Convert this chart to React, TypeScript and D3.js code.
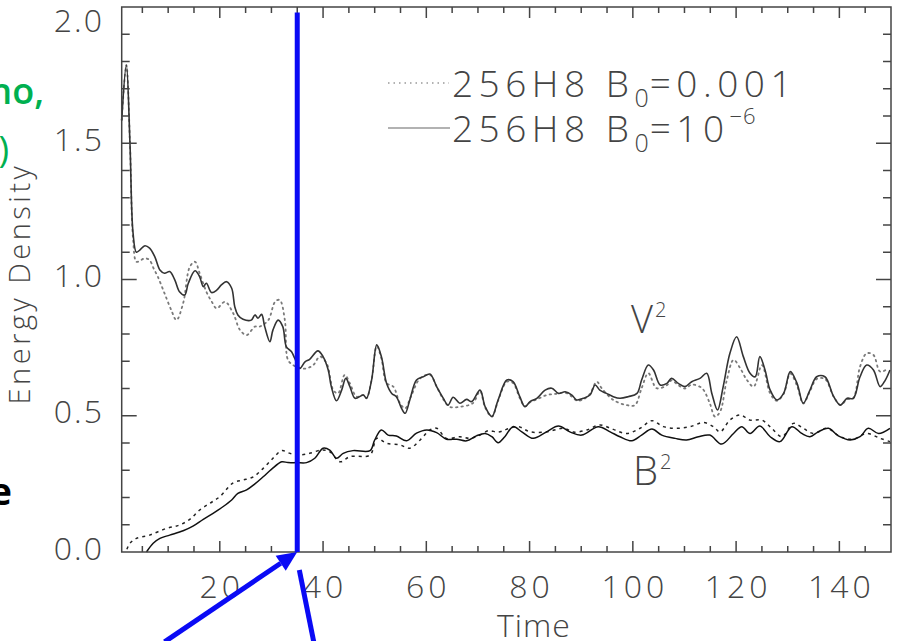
import React, { useEffect, useRef } from 'react';
import * as d3 from 'd3';

// V^2, B0 = 1e-6 (solid)
const vSolidT = [1, 1.9, 2.6, 3.2, 3.85, 4.5, 5.5, 6.4, 7.4, 8.4, 9.3, 10.3, 11.3, 12.2, 13.2, 13.9, 15.2, 16.1, 16.8, 17.4, 18.4, 19.4, 20.3, 21.3, 22.3, 22.9, 23.5, 24.5, 26.1, 26.8, 27.4, 28.1, 28.7, 29.7, 30.3, 31.3, 32.2, 32.9, 33.9, 34.5, 35.5, 36.5, 37.4, 39, 40, 41, 41.6, 42.6, 43.6, 44.4, 45.2, 46.2, 47.8, 48.4, 49.4, 50.4, 51.3, 52.3, 53.3, 54.2, 55.2, 55.9, 56.8, 58.1, 59.4, 60.7, 62, 63.3, 64.2, 65.2, 66.5, 67.8, 68.8, 70.4, 71.4, 72.7, 73.9, 75.6, 76.8, 78.1, 79.1, 80.1, 81.4, 83, 84.3, 85.6, 86.9, 88.2, 89.1, 90.4, 91.7, 92.7, 93.6, 94.9, 96.2, 97.5, 99.1, 100.8, 101.7, 103, 104, 105.3, 106.6, 107.5, 108.8, 110.1, 111.4, 113, 114.3, 115.3, 116.4, 117.5, 118.8, 120.1, 121.4, 122.7, 123.7, 124.6, 125.6, 126.6, 127.9, 129.2, 130.5, 131.8, 133, 134.3, 135.6, 137.2, 138.9, 140.2, 141.5, 142.7, 144, 145.3, 146.6, 147.9, 148.9, 149.8];
const vSolidV = [1.585, 1.787, 1.5, 1.17, 1.1, 1.108, 1.124, 1.115, 1.084, 1.035, 1.023, 1.029, 0.998, 0.955, 0.943, 0.986, 1.032, 1.01, 0.974, 0.986, 0.952, 0.961, 0.98, 0.992, 0.968, 0.9, 0.87, 0.854, 0.851, 0.87, 0.858, 0.872, 0.827, 0.772, 0.815, 0.851, 0.827, 0.753, 0.735, 0.711, 0.674, 0.698, 0.707, 0.738, 0.717, 0.668, 0.607, 0.555, 0.594, 0.637, 0.607, 0.564, 0.576, 0.564, 0.631, 0.76, 0.717, 0.619, 0.582, 0.57, 0.527, 0.509, 0.558, 0.631, 0.643, 0.653, 0.607, 0.564, 0.539, 0.568, 0.546, 0.56, 0.552, 0.594, 0.533, 0.497, 0.558, 0.631, 0.625, 0.57, 0.533, 0.552, 0.564, 0.594, 0.601, 0.582, 0.588, 0.576, 0.558, 0.564, 0.576, 0.613, 0.594, 0.582, 0.57, 0.564, 0.57, 0.582, 0.631, 0.686, 0.668, 0.613, 0.619, 0.637, 0.619, 0.607, 0.625, 0.637, 0.656, 0.582, 0.521, 0.607, 0.729, 0.79, 0.717, 0.656, 0.643, 0.717, 0.668, 0.594, 0.558, 0.582, 0.662, 0.619, 0.546, 0.594, 0.643, 0.643, 0.57, 0.539, 0.564, 0.564, 0.643, 0.686, 0.668, 0.607, 0.631, 0.668];

// V^2, B0 = 0.001 (dotted)
const vDotT = [1, 1.9, 2.6, 3.2, 3.85, 4.6, 5.5, 6.4, 7.2, 8, 9.3, 10.6, 11.6, 12.9, 14.2, 15.2, 16.1, 17.4, 18.4, 19.4, 21, 22.6, 23.9, 25.2, 26.8, 27.7, 29.4, 30.7, 31.6, 32.6, 33.2, 34.2, 35.5, 36.8, 38.1, 39.4, 40.7, 42, 42.9, 44.2, 45.2, 46.5, 47.8, 48.4, 49.4, 50.4, 51.3, 52.3, 53.6, 54.9, 55.9, 57, 58.8, 60.7, 62, 63.3, 64.5, 66.5, 69, 70.4, 71.4, 72.7, 73.9, 75.6, 76.8, 78.1, 79.1, 80.1, 81.4, 83.3, 85, 86.9, 88.2, 89.1, 90.4, 91.7, 93, 94, 96.2, 98.8, 100.4, 101.7, 103, 104.6, 106.6, 107.5, 108.8, 110.1, 111.4, 113.4, 114.9, 115.9, 116.9, 118.2, 119.5, 120.8, 122.1, 123.4, 125, 126.6, 127.9, 129.2, 130.5, 131.8, 133, 134.3, 135.6, 137.2, 138.9, 140.2, 141.5, 142.7, 144, 145.3, 146.6, 147.9, 149.5];
const vDotV = [1.585, 1.787, 1.5, 1.15, 1.065, 1.07, 1.078, 1.071, 1.04, 1.01, 0.949, 0.888, 0.851, 0.913, 1.047, 1.065, 1.023, 0.955, 0.92, 0.894, 0.918, 0.876, 0.815, 0.796, 0.827, 0.827, 0.851, 0.918, 0.925, 0.851, 0.705, 0.686, 0.674, 0.674, 0.686, 0.717, 0.692, 0.594, 0.582, 0.65, 0.619, 0.57, 0.576, 0.564, 0.631, 0.755, 0.71, 0.62, 0.607, 0.546, 0.527, 0.57, 0.637, 0.65, 0.607, 0.56, 0.533, 0.533, 0.546, 0.59, 0.53, 0.497, 0.555, 0.625, 0.62, 0.565, 0.535, 0.55, 0.56, 0.576, 0.58, 0.585, 0.57, 0.556, 0.56, 0.58, 0.625, 0.6, 0.558, 0.539, 0.539, 0.601, 0.656, 0.601, 0.612, 0.63, 0.612, 0.6, 0.614, 0.601, 0.546, 0.497, 0.515, 0.631, 0.705, 0.674, 0.631, 0.607, 0.686, 0.582, 0.555, 0.58, 0.655, 0.61, 0.545, 0.59, 0.635, 0.635, 0.57, 0.54, 0.56, 0.565, 0.68, 0.729, 0.723, 0.662, 0.674];

// B^2, B0 = 1e-6 (solid)
const bSolidT = [5.8, 7.1, 8.4, 10.3, 12.9, 14.8, 16.8, 18.7, 20.6, 22.3, 23.5, 25.2, 26.8, 28.4, 30, 32, 33.2, 34.9, 36.8, 38.4, 40, 41.3, 42.6, 43.9, 45.8, 49.1, 50, 51.3, 52.6, 54.2, 56.2, 58.1, 60.1, 62, 63.9, 65.9, 67.8, 69.7, 71.4, 72.7, 73.9, 75.2, 76.8, 78.5, 80.7, 83.3, 85.6, 87.8, 90.1, 93.3, 95.6, 97.5, 99.8, 101.7, 103.7, 105.6, 108.2, 110.4, 112.7, 114.9, 117.2, 119.5, 121.1, 122.7, 124.6, 126.6, 128.5, 130.8, 132.7, 134.3, 135.9, 137.9, 139.8, 142.1, 144, 145.6, 147.6, 149.8];
const bSolidV = [0, 0.032, 0.05, 0.062, 0.078, 0.095, 0.12, 0.142, 0.166, 0.191, 0.215, 0.228, 0.25, 0.276, 0.303, 0.331, 0.328, 0.328, 0.328, 0.344, 0.381, 0.374, 0.344, 0.362, 0.372, 0.372, 0.411, 0.448, 0.429, 0.426, 0.408, 0.436, 0.448, 0.438, 0.414, 0.414, 0.408, 0.426, 0.435, 0.423, 0.401, 0.423, 0.46, 0.441, 0.417, 0.441, 0.462, 0.441, 0.429, 0.46, 0.441, 0.423, 0.408, 0.429, 0.451, 0.429, 0.417, 0.411, 0.423, 0.429, 0.396, 0.435, 0.46, 0.435, 0.462, 0.423, 0.405, 0.46, 0.435, 0.423, 0.441, 0.454, 0.426, 0.411, 0.423, 0.454, 0.435, 0.454];

// B^2, B0 = 0.001 (dashed)
const bDotT = [2, 2.6, 3.85, 6.4, 9.7, 12.2, 14.2, 16.1, 18.1, 20, 22.6, 24.5, 26.5, 28.4, 30.3, 32, 33.6, 35.5, 37.4, 39.7, 41.3, 43.3, 45.2, 49.1, 50.4, 52.3, 54.9, 56.8, 58.8, 60.7, 62, 63.9, 66.5, 68.5, 70.4, 72, 74, 75.5, 77.8, 80.1, 83.3, 86.6, 88.5, 91.1, 93.6, 96.2, 98.8, 101.4, 103.7, 105.9, 108.5, 111.1, 113.7, 115.6, 116.9, 118.8, 120.8, 122.7, 125, 126.9, 128.9, 131.1, 133, 135, 137.6, 140.2, 142.7, 145.3, 147.9, 149.8];
const bDotV = [0.01, 0.032, 0.05, 0.062, 0.087, 0.099, 0.12, 0.154, 0.179, 0.203, 0.254, 0.264, 0.276, 0.307, 0.344, 0.372, 0.362, 0.356, 0.362, 0.374, 0.368, 0.331, 0.35, 0.356, 0.417, 0.399, 0.393, 0.381, 0.411, 0.448, 0.454, 0.417, 0.423, 0.417, 0.429, 0.445, 0.44, 0.45, 0.46, 0.441, 0.441, 0.454, 0.44, 0.448, 0.466, 0.45, 0.435, 0.454, 0.482, 0.46, 0.454, 0.46, 0.475, 0.46, 0.441, 0.484, 0.503, 0.484, 0.484, 0.454, 0.423, 0.472, 0.454, 0.435, 0.454, 0.423, 0.414, 0.435, 0.417, 0.405];

const xTicks = [20, 40, 60, 80, 100, 120, 140];
const yTicks = [0, 0.5, 1, 1.5, 2];
const markTime = 35; // the blue vertical marker

const W = 903;
const H = 641;
const FONT = "'Open Sans', 'DejaVu Sans', sans-serif";

export default function App() {
  const svgRef = useRef<SVGSVGElement>(null);

  useEffect(() => {
    const svg = d3.select(svgRef.current);
    svg.selectAll('*').remove();

    const left = 121.7, right = 891, top = 7, bottom = 552;
    const x = d3.scaleLinear().domain([1, 150]).range([left, right]);
    const y = d3.scaleLinear().domain([0, 2]).range([bottom, top]);

    svg.append('rect').attr('width', W).attr('height', H).attr('fill', '#fff');

    // leftover slide text at the left edge
    svg.append('text').attr('x', 44).attr('y', 104).attr('text-anchor', 'end')
      .attr('font-family', FONT).attr('font-size', 36).attr('font-weight', 600)
      .attr('fill', '#00b050').text('no,');
    svg.append('text').attr('x', 9).attr('y', 162).attr('text-anchor', 'end')
      .attr('font-family', FONT).attr('font-size', 36).attr('font-weight', 500)
      .attr('fill', '#00b050').text(')');
    svg.append('text').attr('x', 12).attr('y', 505).attr('text-anchor', 'end')
      .attr('font-family', FONT).attr('font-size', 38).attr('font-weight', 700)
      .attr('fill', '#000').text('e');

    const line = d3.line<[number, number]>()
      .x((d) => x(d[0]))
      .y((d) => y(d[1]))
      .curve(d3.curveCatmullRom.alpha(0.5));

    const zip = (t: number[], v: number[]) => t.map((tt, i) => [tt, v[i]] as [number, number]);

    const plot = svg.append('g');
    plot.append('path').attr('d', line(zip(vDotT, vDotV)))
      .attr('fill', 'none').attr('stroke', '#7a7a7a').attr('stroke-width', 1.8)
      .attr('stroke-dasharray', '1.5,4').attr('stroke-linecap', 'round');
    plot.append('path').attr('d', line(zip(bDotT, bDotV)))
      .attr('fill', 'none').attr('stroke', '#222').attr('stroke-width', 1.5)
      .attr('stroke-dasharray', '3,4');
    plot.append('path').attr('d', line(zip(vSolidT, vSolidV)))
      .attr('fill', 'none').attr('stroke', '#333').attr('stroke-width', 1.6);
    plot.append('path').attr('d', line(zip(bSolidT, bSolidV)))
      .attr('fill', 'none').attr('stroke', '#111').attr('stroke-width', 1.5);

    // frame with ticks on all sides
    const frame = svg.append('g').attr('stroke', '#444').attr('stroke-width', 1.5);
    frame.append('rect').attr('x', left).attr('y', top)
      .attr('width', right - left).attr('height', bottom - top).attr('fill', 'none');
    const xMinor = d3.range(5, 150, 5);
    xMinor.forEach((t) => {
      const len = t % 20 === 0 ? 11 : 6;
      frame.append('line').attr('x1', x(t)).attr('x2', x(t)).attr('y1', bottom).attr('y2', bottom - len);
      frame.append('line').attr('x1', x(t)).attr('x2', x(t)).attr('y1', top).attr('y2', top + len);
    });
    const yMinor = d3.range(1, 20).map((i) => i / 10);
    yMinor.forEach((v) => {
      const major = Math.abs(v * 2 - Math.round(v * 2)) < 1e-6;
      const len = major ? 15 : 8;
      frame.append('line').attr('x1', left).attr('x2', left + len).attr('y1', y(v)).attr('y2', y(v));
      frame.append('line').attr('x1', right).attr('x2', right - len).attr('y1', y(v)).attr('y2', y(v));
    });

    // tick labels
    const labels = svg.append('g').attr('font-family', FONT).attr('font-weight', 300)
      .attr('fill', '#444').attr('font-size', 32);
    xTicks.forEach((t) => {
      labels.append('text').attr('x', x(t) + 2).attr('y', 598).attr('text-anchor', 'middle')
        .attr('letter-spacing', 4).text(String(t));
    });
    yTicks.forEach((v) => {
      const cy = Math.max(20, y(v) - 4);
      labels.append('text').attr('x', 104).attr('y', cy).attr('dy', '0.36em')
        .attr('letter-spacing', 2).attr('text-anchor', 'end').text(v.toFixed(1));
    });
    labels.append('text').attr('x', 534).attr('y', 637)
      .attr('text-anchor', 'middle').attr('letter-spacing', 1).text('Time');
    labels.append('text').attr('transform', `translate(30,${(top + bottom) / 2 + 4}) rotate(-90)`)
      .attr('text-anchor', 'middle').attr('font-size', 29).attr('letter-spacing', 3.5).text('Energy Density');

    // legend
    const leg = svg.append('g').attr('font-family', FONT).attr('font-weight', 300).attr('fill', '#444');
    leg.append('line').attr('x1', 388).attr('x2', 449).attr('y1', 83).attr('y2', 83)
      .attr('stroke', '#999').attr('stroke-width', 1.5).attr('stroke-dasharray', '1.5,4');
    leg.append('line').attr('x1', 388).attr('x2', 450).attr('y1', 128).attr('y2', 128)
      .attr('stroke', '#999').attr('stroke-width', 1.5);
    const t1 = leg.append('text').attr('x', 452).attr('y', 97).attr('font-size', 37).attr('letter-spacing', 5.5);
    t1.append('tspan').text('256H8 B');
    t1.append('tspan').attr('font-size', 25).attr('dy', 10).attr('letter-spacing', 1).text('0');
    t1.append('tspan').attr('dy', -10).text('=0.001');
    const t2 = leg.append('text').attr('x', 452).attr('y', 142).attr('font-size', 37).attr('letter-spacing', 5.5);
    t2.append('tspan').text('256H8 B');
    t2.append('tspan').attr('font-size', 25).attr('dy', 10).attr('letter-spacing', 1).text('0');
    t2.append('tspan').attr('dy', -10).text('=10');
    t2.append('tspan').attr('font-size', 22).attr('dy', -18).attr('letter-spacing', 1).text('\u22126');

    // curve labels
    const v2 = leg.append('text').attr('x', 631).attr('y', 333).attr('font-size', 38);
    v2.append('tspan').text('V');
    v2.append('tspan').attr('font-size', 20).attr('dx', 2).attr('dy', -16).text('2');
    const b2 = leg.append('text').attr('x', 633).attr('y', 485).attr('font-size', 40);
    b2.append('tspan').text('B');
    b2.append('tspan').attr('font-size', 20).attr('dx', 2).attr('dy', -16).text('2');

    // blue annotation
    const blue = '#0a0af5';
    svg.append('line').attr('x1', x(markTime)).attr('x2', x(markTime))
      .attr('y1', y(1.98)).attr('y2', y(0))
      .attr('stroke', blue).attr('stroke-width', 5);

    const tipX = x(markTime), tipY = y(0);
    const sx = x(9.3), sy = y(-0.33);
    const ang = Math.atan2(tipY - sy, tipX - sx);
    const hl = 20, hw = 9;
    const bx = tipX - hl * Math.cos(ang), by = tipY - hl * Math.sin(ang);
    svg.append('line').attr('x1', sx).attr('y1', sy).attr('x2', bx).attr('y2', by)
      .attr('stroke', blue).attr('stroke-width', 5);
    svg.append('polygon')
      .attr('points', [
        [tipX, tipY],
        [bx + hw * Math.sin(ang), by - hw * Math.cos(ang)],
        [bx - hw * Math.sin(ang), by + hw * Math.cos(ang)],
      ].map((p) => p.join(',')).join(' '))
      .attr('fill', blue);

    svg.append('line').attr('x1', x(35.4)).attr('y1', y(-0.066))
      .attr('x2', x(38.2)).attr('y2', y(-0.33))
      .attr('stroke', blue).attr('stroke-width', 5);
  }, []);

  return (
    <svg ref={svgRef} width={W} height={H}
      style={{ position: 'absolute', left: 0, top: 0, display: 'block' }} />
  );
}
